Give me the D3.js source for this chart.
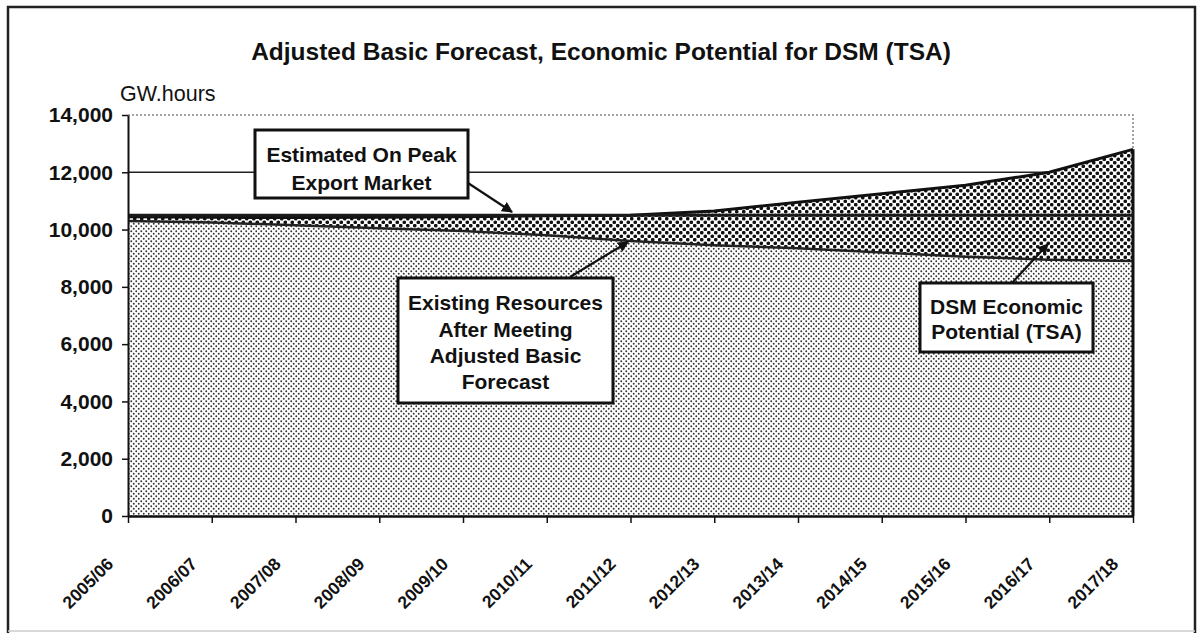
<!DOCTYPE html>
<html>
<head>
<meta charset="utf-8">
<script src="https://cdn.jsdelivr.net/npm/d3@7/dist/d3.min.js"></script>
<style>
  html, body { margin: 0; padding: 0; background: #fff; }
  svg { display: block; font-family: "Liberation Sans", Arial, sans-serif; }
</style>
</head>
<body>
<svg id="chart" width="1197" height="633"></svg>
<script>
// Fiscal years on the category axis
const seasons = ["2005/06", "2006/07", "2007/08", "2008/09", "2009/10", "2010/11", "2011/12",
                 "2012/13", "2013/14", "2014/15", "2015/16", "2016/17", "2017/18"];
// Existing resources left after meeting the adjusted basic forecast (GW.h)
const existingResources = [10300, 10250, 10150, 10050, 9950, 9800, 9600, 9450, 9350, 9200, 9050, 8950, 8900];
// DSM economic potential (TSA), stacked on top (GW.h)
const dsmPotential = [150, 180, 270, 380, 500, 680, 900, 1200, 1600, 2050, 2500, 3050, 3900];
// Estimated on-peak export market (GW.h)
const exportMarket = [10500, 10500, 10500, 10500, 10500, 10500, 10500, 10500, 10500, 10500, 10500, 10500, 10500];
// Value axis ticks
const yTicks = [0, 2000, 4000, 6000, 8000, 10000, 12000, 14000];

const svg = d3.select("#chart");
const FONT = '"Liberation Sans", Arial, sans-serif';

// Outer frame
svg.append("path")
  .attr("d", `M8,633 L8,7 L1195,7 L1195,633`)
  .attr("fill", "none").attr("stroke", "#222").attr("stroke-width", 2.5);
svg.append("line").attr("x1", 8).attr("x2", 1195).attr("y1", 631).attr("y2", 631)
  .attr("stroke", "#ccc").attr("stroke-width", 1.5);

// Fill patterns
const defs = svg.append("defs");
const fine = defs.append("pattern").attr("id", "fineDots")
  .attr("patternUnits", "userSpaceOnUse").attr("width", 5).attr("height", 5);
fine.append("rect").attr("width", 5).attr("height", 5).attr("fill", "#fff");
fine.append("circle").attr("cx", 1.25).attr("cy", 1.25).attr("r", 0.95).attr("fill", "#333");
fine.append("circle").attr("cx", 3.75).attr("cy", 3.75).attr("r", 0.95).attr("fill", "#333");

const coarse = defs.append("pattern").attr("id", "coarseDots")
  .attr("patternUnits", "userSpaceOnUse").attr("width", 7).attr("height", 7);
coarse.append("rect").attr("width", 7).attr("height", 7).attr("fill", "#fff");
coarse.append("circle").attr("cx", 1.75).attr("cy", 1.75).attr("r", 1.85).attr("fill", "#111");
coarse.append("circle").attr("cx", 5.25).attr("cy", 5.25).attr("r", 1.85).attr("fill", "#111");

const arrowHead = defs.append("marker").attr("id", "arrow")
  .attr("viewBox", "0 0 10 10").attr("refX", 9).attr("refY", 5)
  .attr("markerWidth", 5).attr("markerHeight", 5).attr("markerUnits", "strokeWidth")
  .attr("orient", "auto");
arrowHead.append("path").attr("d", "M0,0 L10,5 L0,10 Z").attr("fill", "#111");

// Scales
const x = d3.scalePoint().domain(seasons).range([128, 1133]);
const y = d3.scaleLinear().domain([0, 14000]).range([516, 115]);

// Title
svg.append("text")
  .attr("x", 601).attr("y", 60).attr("text-anchor", "middle")
  .style("font-size", "24.5px").style("font-weight", "bold").attr("fill", "#111")
  .text("Adjusted Basic Forecast, Economic Potential for DSM (TSA)");

// Unit label
svg.append("text")
  .attr("x", 120).attr("y", 101)
  .style("font-size", "21.5px").attr("fill", "#111")
  .text("GW.hours");

// Plot area border (dotted)
svg.append("path")
  .attr("d", `M${x.range()[0]},${y(14000)} L${x.range()[1]},${y(14000)} L${x.range()[1]},${y(0)}`)
  .attr("fill", "none").attr("stroke", "#888").attr("stroke-width", 1.5)
  .attr("stroke-dasharray", "2,2");

// Gridlines
svg.append("g").selectAll("line")
  .data(yTicks.filter(d => d > 0 && d < 14000))
  .join("line")
  .attr("x1", x.range()[0]).attr("x2", x.range()[1])
  .attr("y1", d => y(d)).attr("y2", d => y(d))
  .attr("stroke", "#222").attr("stroke-width", 1.5);

// Stacked series
const rows = seasons.map((s, i) => ({ season: s, existing: existingResources[i], dsm: dsmPotential[i] }));
const stack = d3.stack().keys(["existing", "dsm"]);
const layers = stack(rows);

const area = d3.area()
  .x(d => x(d.data.season))
  .y0(d => y(d[0]))
  .y1(d => y(d[1]));

svg.append("path").datum(layers[1])
  .attr("d", area).attr("fill", "url(#coarseDots)");
svg.append("path").datum(layers[0])
  .attr("d", area).attr("fill", "url(#fineDots)");

const topLine = d3.line().x(d => x(d.data.season)).y(d => y(d[1]));
svg.append("path").datum(layers[0])
  .attr("d", topLine).attr("fill", "none").attr("stroke", "#222").attr("stroke-width", 2.5);
svg.append("path").datum(layers[1])
  .attr("d", topLine).attr("fill", "none").attr("stroke", "#111").attr("stroke-width", 3);

// Right-hand closing edge of the stacked areas
const last = layers[1][layers[1].length - 1];
svg.append("line")
  .attr("x1", x(last.data.season)).attr("x2", x(last.data.season))
  .attr("y1", y(last[1])).attr("y2", y(0))
  .attr("stroke", "#111").attr("stroke-width", 3);

// Export market line
const exportLine = d3.line().x((d, i) => x(seasons[i])).y(d => y(d));
svg.append("path").datum(exportMarket)
  .attr("d", exportLine).attr("fill", "none").attr("stroke", "#1a1a1a").attr("stroke-width", 3);

// Axes
const yAxis = svg.append("g").attr("transform", `translate(${x.range()[0]},0)`)
  .call(d3.axisLeft(y).tickValues(yTicks).tickSize(6).tickSizeOuter(0).tickPadding(9)
        .tickFormat(d3.format(",")));
yAxis.select(".domain").attr("stroke", "#111").attr("stroke-width", 2);
yAxis.selectAll(".tick line").attr("stroke", "#111").attr("stroke-width", 1.5);
yAxis.selectAll("text").style("font-family", FONT).style("font-size", "21px")
  .style("font-weight", "bold").attr("fill", "#111");

const xAxis = svg.append("g").attr("transform", `translate(0,${y(0)})`)
  .call(d3.axisBottom(x).tickSize(7).tickSizeOuter(0));
xAxis.select(".domain").attr("stroke", "#111").attr("stroke-width", 2.5);
xAxis.selectAll(".tick line").attr("stroke", "#111").attr("stroke-width", 1.5);
xAxis.selectAll("text")
  .attr("x", 0).attr("y", 0).attr("dy", 0)
  .attr("transform", "translate(-14,49) rotate(-45)")
  .style("text-anchor", "end")
  .style("font-family", FONT).style("font-size", "17.5px").style("font-weight", "bold")
  .attr("fill", "#111");

// Callout boxes with arrows
const callouts = [
  { lines: ["Estimated On Peak", "Export Market"], box: [255, 130, 213, 68],
    baselines: [162, 190], arrow: [468, 183, 512, 212] },
  { lines: ["Existing Resources", "After Meeting", "Adjusted Basic", "Forecast"], box: [398, 278, 215, 125],
    baselines: [310, 336.5, 363, 389], arrow: [570, 277, 628, 242] },
  { lines: ["DSM Economic", "Potential (TSA)"], box: [920, 283, 173, 69],
    baselines: [314, 339], arrow: [1012, 283, 1048, 244] }
];

callouts.forEach(c => {
  svg.append("line")
    .attr("x1", c.arrow[0]).attr("y1", c.arrow[1]).attr("x2", c.arrow[2]).attr("y2", c.arrow[3])
    .attr("stroke", "#111").attr("stroke-width", 2.2).attr("marker-end", "url(#arrow)");
  svg.append("rect")
    .attr("x", c.box[0]).attr("y", c.box[1]).attr("width", c.box[2]).attr("height", c.box[3])
    .attr("fill", "#fff").attr("stroke", "#111").attr("stroke-width", 3);
  const cx = c.box[0] + c.box[2] / 2;
  c.lines.forEach((t, i) => {
    svg.append("text")
      .attr("x", cx).attr("y", c.baselines[i]).attr("text-anchor", "middle")
      .style("font-size", "21px").style("font-weight", "bold").attr("fill", "#111")
      .text(t);
  });
});
</script>
</body>
</html>
